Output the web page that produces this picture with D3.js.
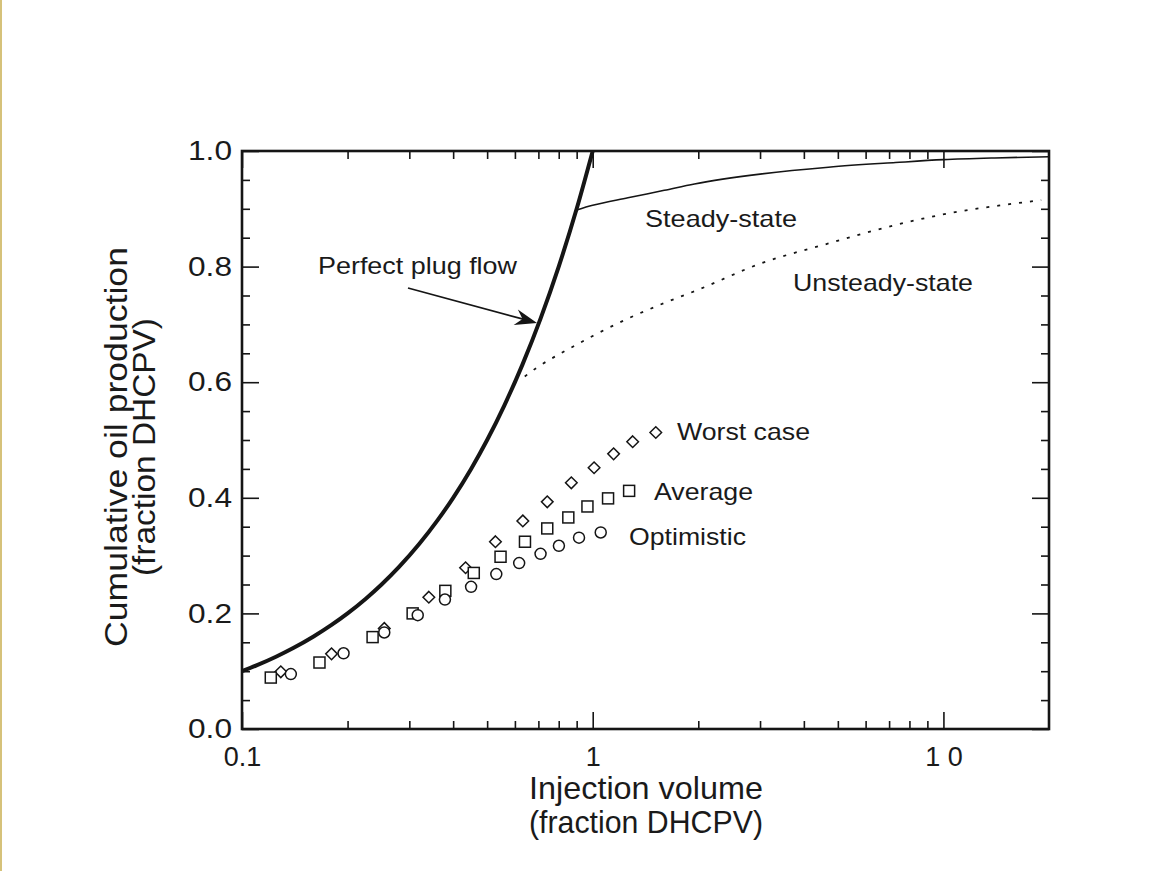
<!DOCTYPE html>
<html>
<head>
<meta charset="utf-8">
<script src="https://cdn.jsdelivr.net/npm/d3@7/dist/d3.min.js"></script>
<style>
  html, body { margin: 0; padding: 0; background: #ffffff; }
  svg { display: block; }
  text { font-family: "Liberation Sans", Arial, Helvetica, sans-serif; fill: #1a1a1a; }
</style>
</head>
<body>
<svg id="chart" width="1160" height="871"></svg>
<script>
// ---------------- data ----------------
const xMajorTicks = [0.1, 1, 10];
const xTickLabels = ["0.1", "1", "1 0"];
const xMinorTicks = [0.2, 0.3, 0.4, 0.5, 0.6, 0.7, 0.8, 0.9, 2, 3, 4, 5, 6, 7, 8, 9];
const yMajorTicks = [0, 0.2, 0.4, 0.6, 0.8, 1.0];
const yTickLabels = ["0.0", "0.2", "0.4", "0.6", "0.8", "1.0"];
const yMinorTicks = [0.05, 0.1, 0.15, 0.25, 0.3, 0.35, 0.45, 0.5, 0.55, 0.65, 0.7, 0.75, 0.85, 0.9, 0.95];

// Perfect plug flow (thick curve)
const plugX = [0.1, 0.11, 0.125, 0.14, 0.16, 0.18, 0.2, 0.225, 0.25, 0.28, 0.32, 0.36, 0.4, 0.45, 0.5, 0.56, 0.63, 0.71, 0.8, 0.9, 1.0];
const plugY = [0.1, 0.11, 0.125, 0.14, 0.16, 0.18, 0.2, 0.225, 0.25, 0.28, 0.32, 0.36, 0.4, 0.45, 0.5, 0.56, 0.63, 0.71, 0.8, 0.9, 1.0];

// Steady-state (thin solid)
const steadyX = [0.9, 1.0, 1.26, 1.6, 1.95, 3.0, 4.7, 7.3, 10, 14, 20];
const steadyY = [0.898, 0.906, 0.919, 0.932, 0.943, 0.960, 0.972, 0.980, 0.985, 0.988, 0.990];

// Unsteady-state (dotted)
const unsteadyX = [0.64, 0.7, 0.8, 0.9, 1.0, 1.26, 1.6, 2.0, 3.0, 4.7, 7.3, 11, 15, 19];
const unsteadyY = [0.61, 0.627, 0.648, 0.665, 0.68, 0.71, 0.737, 0.76, 0.805, 0.84, 0.872, 0.895, 0.907, 0.915];

// Worst case (diamonds)
const worstX = [0.129, 0.180, 0.2545, 0.341, 0.434, 0.528, 0.632, 0.742, 0.869, 1.009, 1.147, 1.30, 1.513];
const worstY = [0.099, 0.130, 0.174, 0.228, 0.279, 0.324, 0.360, 0.393, 0.426, 0.452, 0.476, 0.497, 0.513];

// Average (squares)
const avgX = [0.1208, 0.1663, 0.2357, 0.3066, 0.380, 0.458, 0.546, 0.641, 0.742, 0.852, 0.966, 1.106, 1.27];
const avgY = [0.089, 0.115, 0.159, 0.200, 0.239, 0.270, 0.298, 0.324, 0.347, 0.366, 0.385, 0.399, 0.412];

// Optimistic (circles)
const optX = [0.1378, 0.1948, 0.2545, 0.317, 0.379, 0.450, 0.531, 0.617, 0.710, 0.801, 0.914, 1.054];
const optY = [0.095, 0.131, 0.167, 0.197, 0.224, 0.246, 0.268, 0.287, 0.303, 0.317, 0.331, 0.340];

// ---------------- layout ----------------
const svg = d3.select("#chart");
const L = 242, R = 1049, T = 151, B = 729;
const x = d3.scaleLog().domain([0.1, 20]).range([L, R]);
const y = d3.scaleLinear().domain([0, 1]).range([B, T]);
const ink = "#151515";

// page border (scan frame)
svg.append("line").attr("x1", 1).attr("x2", 1).attr("y1", 0).attr("y2", 871)
  .attr("stroke", "#d6c27a").attr("stroke-width", 2);

// axes
const fs = 27;
function styleAxis(g) {
  g.select(".domain").remove();
  g.selectAll(".tick line").attr("stroke", ink).attr("stroke-width", 1.6);
  g.selectAll(".tick text").attr("fill", ink).style("font-size", fs + "px")
    .style("font-family", '"Liberation Sans", Arial, sans-serif');
}
// bottom
svg.append("g").attr("transform", `translate(0,${B})`)
  .call(d3.axisBottom(x).tickValues(xMinorTicks).tickSize(-8).tickFormat(""))
  .call(styleAxis);
svg.append("g").attr("transform", `translate(0,${B})`)
  .call(d3.axisBottom(x).tickValues(xMajorTicks).tickSize(-17).tickPadding(18)
    .tickFormat((d, i) => xTickLabels[i]))
  .call(styleAxis);
// top
svg.append("g").attr("transform", `translate(0,${T})`)
  .call(d3.axisTop(x).tickValues(xMinorTicks).tickSize(-8).tickFormat(""))
  .call(styleAxis);
svg.append("g").attr("transform", `translate(0,${T})`)
  .call(d3.axisTop(x).tickValues(xMajorTicks).tickSize(-17).tickFormat(""))
  .call(styleAxis);
// left
svg.append("g").attr("transform", `translate(${L},0)`)
  .call(d3.axisLeft(y).tickValues(yMinorTicks).tickSize(-8).tickFormat(""))
  .call(styleAxis);
const yLab = svg.append("g").attr("transform", `translate(${L},0)`)
  .call(d3.axisLeft(y).tickValues(yMajorTicks).tickSize(-17).tickPadding(10)
    .tickFormat((d, i) => yTickLabels[i]))
  .call(styleAxis);
yLab.selectAll(".tick text").attr("textLength", 44).attr("lengthAdjust", "spacingAndGlyphs");
// right
svg.append("g").attr("transform", `translate(${R},0)`)
  .call(d3.axisRight(y).tickValues(yMinorTicks).tickSize(-8).tickFormat(""))
  .call(styleAxis);
svg.append("g").attr("transform", `translate(${R},0)`)
  .call(d3.axisRight(y).tickValues(yMajorTicks).tickSize(-17).tickFormat(""))
  .call(styleAxis);

// frame
svg.append("rect").attr("x", L).attr("y", T).attr("width", R - L).attr("height", B - T)
  .attr("fill", "none").attr("stroke", ink).attr("stroke-width", 2.6);

// curves
const zip = (xs, ys) => xs.map((v, i) => [v, ys[i]]);
const line = d3.line().x(d => x(d[0])).y(d => y(d[1])).curve(d3.curveMonotoneX);

svg.append("path").datum(zip(unsteadyX, unsteadyY)).attr("d", line)
  .attr("fill", "none").attr("stroke", ink).attr("stroke-width", 1.8)
  .attr("stroke-dasharray", "3,8");
svg.append("path").datum(zip(steadyX, steadyY)).attr("d", line)
  .attr("fill", "none").attr("stroke", ink).attr("stroke-width", 1.6);
svg.append("path").datum(zip(plugX, plugY)).attr("d", line)
  .attr("fill", "none").attr("stroke", ink).attr("stroke-width", 4);

// markers
const mk = svg.append("g").attr("fill", "#fff").attr("stroke", ink).attr("stroke-width", 1.5);
mk.selectAll("path.dia").data(zip(worstX, worstY)).join("path").attr("class", "dia")
  .attr("d", d => { const cx = x(d[0]), cy = y(d[1]), r = 5.8; return `M${cx},${cy - r}L${cx + r},${cy}L${cx},${cy + r}L${cx - r},${cy}Z`; });
mk.selectAll("rect.sq").data(zip(avgX, avgY)).join("rect").attr("class", "sq")
  .attr("x", d => x(d[0]) - 5.5).attr("y", d => y(d[1]) - 5.5).attr("width", 11).attr("height", 11);
mk.selectAll("circle.ci").data(zip(optX, optY)).join("circle").attr("class", "ci")
  .attr("cx", d => x(d[0])).attr("cy", d => y(d[1])).attr("r", 5.5);

// annotations
const ann = [
  { t: "Perfect plug flow", x: 318, y: 274, w: 199 },
  { t: "Steady-state", x: 645, y: 227, w: 152 },
  { t: "Unsteady-state", x: 793, y: 291, w: 180 },
  { t: "Worst case", x: 677, y: 440, w: 133 },
  { t: "Average", x: 654, y: 500, w: 99 },
  { t: "Optimistic", x: 629, y: 545, w: 117 }
];
svg.append("g").selectAll("text").data(ann).join("text")
  .attr("x", d => d.x).attr("y", d => d.y).style("font-size", "24px")
  .attr("textLength", d => d.w).attr("lengthAdjust", "spacingAndGlyphs")
  .text(d => d.t);

// arrow
const ax0 = 408, ay0 = 288, ax1 = 537, ay1 = 323;
svg.append("line").attr("x1", ax0).attr("y1", ay0).attr("x2", ax1 - 12).attr("y2", ay1 - 3.3)
  .attr("stroke", ink).attr("stroke-width", 1.8);
{
  const ang = Math.atan2(ay1 - ay0, ax1 - ax0);
  const len = 22, hw = 8, notch = 15;
  const ux = Math.cos(ang), uy = Math.sin(ang), px = -uy, py = ux;
  const bx = ax1 - ux * len, by = ay1 - uy * len;
  const nx = ax1 - ux * notch, ny = ay1 - uy * notch;
  svg.append("path")
    .attr("d", `M${ax1},${ay1}L${bx + px * hw},${by + py * hw}L${nx},${ny}L${bx - px * hw},${by - py * hw}Z`)
    .attr("fill", ink);
}

// axis titles
svg.append("text").attr("x", 646).attr("y", 799).attr("text-anchor", "middle")
  .style("font-size", "32px").attr("textLength", 234).attr("lengthAdjust", "spacingAndGlyphs")
  .text("Injection volume");
svg.append("text").attr("x", 646).attr("y", 833).attr("text-anchor", "middle")
  .style("font-size", "32px").attr("textLength", 234).attr("lengthAdjust", "spacingAndGlyphs")
  .text("(fraction DHCPV)");
svg.append("text").attr("transform", "translate(127,447) rotate(-90)").attr("text-anchor", "middle")
  .style("font-size", "31px").attr("textLength", 400).attr("lengthAdjust", "spacingAndGlyphs")
  .text("Cumulative oil production");
svg.append("text").attr("transform", "translate(155,447) rotate(-90)").attr("text-anchor", "middle")
  .style("font-size", "31px").attr("textLength", 258).attr("lengthAdjust", "spacingAndGlyphs")
  .text("(fraction DHCPV)");
</script>
</body>
</html>
